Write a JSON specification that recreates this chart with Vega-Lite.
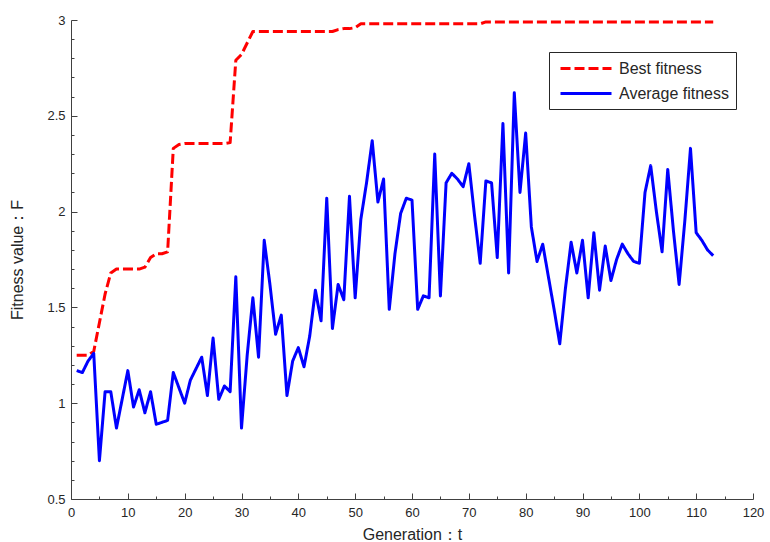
{
  "$schema": "https://vega.github.io/schema/vega-lite/v6.json",
  "width": 682,
  "height": 479,
  "autosize": {"type": "none"},
  "padding": {"left": 71, "top": 20, "right": 17, "bottom": 43},
  "background": "white",
  "config": {
    "view": {"stroke": null},
    "font": "Liberation Sans",
    "axis": {"grid": false, "domainColor": "#404040", "tickColor": "#404040", "labelColor": "#262626", "titleColor": "#262626", "labelFontSize": 13, "titleFontSize": 16, "titleFontWeight": "normal", "domainWidth": 1, "tickWidth": 1}
  },
  "data": {
    "values": [
      {"t": 1, "best": 1.25, "avg": 1.17},
      {"t": 2, "best": 1.25, "avg": 1.16},
      {"t": 3, "best": 1.25, "avg": 1.22},
      {"t": 4, "best": 1.27, "avg": 1.26},
      {"t": 5, "best": 1.42, "avg": 0.70},
      {"t": 6, "best": 1.57, "avg": 1.06},
      {"t": 7, "best": 1.68, "avg": 1.06},
      {"t": 8, "best": 1.70, "avg": 0.87},
      {"t": 9, "best": 1.70, "avg": 1.02},
      {"t": 10, "best": 1.70, "avg": 1.17},
      {"t": 11, "best": 1.70, "avg": 0.98},
      {"t": 12, "best": 1.70, "avg": 1.07},
      {"t": 13, "best": 1.71, "avg": 0.95},
      {"t": 14, "best": 1.76, "avg": 1.06},
      {"t": 15, "best": 1.78, "avg": 0.89},
      {"t": 16, "best": 1.78, "avg": 0.90},
      {"t": 17, "best": 1.79, "avg": 0.91},
      {"t": 18, "best": 2.33, "avg": 1.16},
      {"t": 19, "best": 2.35, "avg": 1.08},
      {"t": 20, "best": 2.355, "avg": 1.00},
      {"t": 21, "best": 2.355, "avg": 1.12},
      {"t": 22, "best": 2.355, "avg": 1.18},
      {"t": 23, "best": 2.355, "avg": 1.24},
      {"t": 24, "best": 2.355, "avg": 1.04},
      {"t": 25, "best": 2.355, "avg": 1.34},
      {"t": 26, "best": 2.355, "avg": 1.02},
      {"t": 27, "best": 2.355, "avg": 1.09},
      {"t": 28, "best": 2.36, "avg": 1.06},
      {"t": 29, "best": 2.79, "avg": 1.66},
      {"t": 30, "best": 2.82, "avg": 0.87},
      {"t": 31, "best": 2.88, "avg": 1.25},
      {"t": 32, "best": 2.94, "avg": 1.55},
      {"t": 33, "best": 2.94, "avg": 1.24},
      {"t": 34, "best": 2.94, "avg": 1.85},
      {"t": 35, "best": 2.94, "avg": 1.62},
      {"t": 36, "best": 2.94, "avg": 1.36},
      {"t": 37, "best": 2.94, "avg": 1.46},
      {"t": 38, "best": 2.94, "avg": 1.04},
      {"t": 39, "best": 2.94, "avg": 1.22},
      {"t": 40, "best": 2.94, "avg": 1.29},
      {"t": 41, "best": 2.94, "avg": 1.19},
      {"t": 42, "best": 2.94, "avg": 1.35},
      {"t": 43, "best": 2.94, "avg": 1.59},
      {"t": 44, "best": 2.94, "avg": 1.43},
      {"t": 45, "best": 2.94, "avg": 2.07},
      {"t": 46, "best": 2.94, "avg": 1.39},
      {"t": 47, "best": 2.95, "avg": 1.62},
      {"t": 48, "best": 2.955, "avg": 1.54},
      {"t": 49, "best": 2.955, "avg": 2.08},
      {"t": 50, "best": 2.96, "avg": 1.55},
      {"t": 51, "best": 2.98, "avg": 1.96},
      {"t": 52, "best": 2.98, "avg": 2.15},
      {"t": 53, "best": 2.98, "avg": 2.37},
      {"t": 54, "best": 2.98, "avg": 2.05},
      {"t": 55, "best": 2.98, "avg": 2.17},
      {"t": 56, "best": 2.98, "avg": 1.49},
      {"t": 57, "best": 2.98, "avg": 1.78},
      {"t": 58, "best": 2.98, "avg": 1.99},
      {"t": 59, "best": 2.98, "avg": 2.07},
      {"t": 60, "best": 2.98, "avg": 2.06},
      {"t": 61, "best": 2.98, "avg": 1.49},
      {"t": 62, "best": 2.98, "avg": 1.56},
      {"t": 63, "best": 2.98, "avg": 1.55},
      {"t": 64, "best": 2.98, "avg": 2.30},
      {"t": 65, "best": 2.98, "avg": 1.56},
      {"t": 66, "best": 2.98, "avg": 2.15},
      {"t": 67, "best": 2.98, "avg": 2.20},
      {"t": 68, "best": 2.98, "avg": 2.17},
      {"t": 69, "best": 2.98, "avg": 2.13},
      {"t": 70, "best": 2.98, "avg": 2.25},
      {"t": 71, "best": 2.98, "avg": 1.98},
      {"t": 72, "best": 2.98, "avg": 1.73},
      {"t": 73, "best": 2.99, "avg": 2.16},
      {"t": 74, "best": 2.99, "avg": 2.15},
      {"t": 75, "best": 2.99, "avg": 1.76},
      {"t": 76, "best": 2.99, "avg": 2.46},
      {"t": 77, "best": 2.99, "avg": 1.68},
      {"t": 78, "best": 2.99, "avg": 2.62},
      {"t": 79, "best": 2.99, "avg": 2.10},
      {"t": 80, "best": 2.99, "avg": 2.41},
      {"t": 81, "best": 2.99, "avg": 1.92},
      {"t": 82, "best": 2.99, "avg": 1.74},
      {"t": 83, "best": 2.99, "avg": 1.83},
      {"t": 84, "best": 2.99, "avg": 1.66},
      {"t": 85, "best": 2.99, "avg": 1.49},
      {"t": 86, "best": 2.99, "avg": 1.31},
      {"t": 87, "best": 2.99, "avg": 1.60},
      {"t": 88, "best": 2.99, "avg": 1.84},
      {"t": 89, "best": 2.99, "avg": 1.68},
      {"t": 90, "best": 2.99, "avg": 1.85},
      {"t": 91, "best": 2.99, "avg": 1.55},
      {"t": 92, "best": 2.99, "avg": 1.89},
      {"t": 93, "best": 2.99, "avg": 1.59},
      {"t": 94, "best": 2.99, "avg": 1.82},
      {"t": 95, "best": 2.99, "avg": 1.64},
      {"t": 96, "best": 2.99, "avg": 1.75},
      {"t": 97, "best": 2.99, "avg": 1.83},
      {"t": 98, "best": 2.99, "avg": 1.78},
      {"t": 99, "best": 2.99, "avg": 1.74},
      {"t": 100, "best": 2.99, "avg": 1.73},
      {"t": 101, "best": 2.99, "avg": 2.10},
      {"t": 102, "best": 2.99, "avg": 2.24},
      {"t": 103, "best": 2.99, "avg": 2.00},
      {"t": 104, "best": 2.99, "avg": 1.79},
      {"t": 105, "best": 2.99, "avg": 2.22},
      {"t": 106, "best": 2.99, "avg": 1.90},
      {"t": 107, "best": 2.99, "avg": 1.62},
      {"t": 108, "best": 2.99, "avg": 1.95},
      {"t": 109, "best": 2.99, "avg": 2.33},
      {"t": 110, "best": 2.99, "avg": 1.89},
      {"t": 111, "best": 2.99, "avg": 1.85},
      {"t": 112, "best": 2.99, "avg": 1.80},
      {"t": 113, "best": 2.99, "avg": 1.77}
    ]
  },
  "transform": [{"fold": ["best", "avg"], "as": ["series", "value"]}],
  "layer": [
    {
      "mark": {"type": "line", "strokeWidth": 3, "strokeCap": "butt", "strokeJoin": "round"},
      "encoding": {
        "x": {
          "field": "t", "type": "quantitative",
          "scale": {"domain": [0, 120], "nice": false, "zero": false},
          "axis": {"orient": "bottom", "values": [0, 10, 20, 30, 40, 50, 60, 70, 80, 90, 100, 110, 120], "tickSize": -6, "labelPadding": 13, "labelFlush": false, "title": "Generation：t", "titlePadding": 7, "labelOverlap": false}
        },
        "y": {
          "field": "value", "type": "quantitative",
          "scale": {"domain": [0.5, 3], "nice": false, "zero": false},
          "axis": {"orient": "left", "values": [0.5, 1, 1.5, 2, 2.5, 3], "format": "~g", "tickSize": -6, "labelPadding": 12, "labelFlush": false, "title": "Fitness value：F", "titlePadding": 21, "labelOverlap": false}
        },
        "color": {
          "field": "series", "type": "nominal",
          "scale": {"domain": ["best", "avg"], "range": ["#ff0000", "#0000ff"]},
          "legend": {"title": null, "orient": "none", "legendX": 478, "legendY": 32, "symbolType": "M-0.625,0H5.75", "symbolSize": 256, "symbolStrokeWidth": 3, "labelFontSize": 16, "labelOffset": 44, "padding": 7, "rowPadding": 7, "strokeColor": "#262626", "fillColor": "white", "labelColor": "#262626", "labelExpr": "datum.label == 'best' ? 'Best fitness' : 'Average fitness'"}
        },
        "strokeDash": {
          "field": "series", "type": "nominal",
          "scale": {"domain": ["best", "avg"], "range": [[10, 4], [1, 0]]},
          "legend": {"title": null, "orient": "none", "legendX": 478, "legendY": 32, "symbolType": "M-0.625,0H5.75", "symbolSize": 256, "symbolStrokeWidth": 3, "labelFontSize": 16, "labelOffset": 44, "padding": 7, "rowPadding": 7, "strokeColor": "#262626", "fillColor": "white", "labelColor": "#262626", "labelExpr": "datum.label == 'best' ? 'Best fitness' : 'Average fitness'"}
        }
      }
    },
    {
      "mark": {"type": "line", "strokeOpacity": 0, "strokeWidth": 0},
      "encoding": {
        "x": {
          "field": "t", "type": "quantitative",
          "axis": {"orient": "bottom", "values": [5, 15, 25, 35, 45, 55, 65, 75, 85, 95, 105, 115], "tickSize": -3, "labels": false, "domain": false, "title": null}
        },
        "y": {
          "field": "value", "type": "quantitative",
          "axis": {"orient": "left", "values": [0.6, 0.7, 0.8, 0.9, 1.1, 1.2, 1.3, 1.4, 1.6, 1.7, 1.8, 1.9, 2.1, 2.2, 2.3, 2.4, 2.6, 2.7, 2.8, 2.9], "tickSize": -3, "labels": false, "domain": false, "title": null}
        },
        "detail": {"field": "series", "type": "nominal"}
      }
    }
  ],
  "resolve": {"axis": {"x": "independent", "y": "independent"}}
}
